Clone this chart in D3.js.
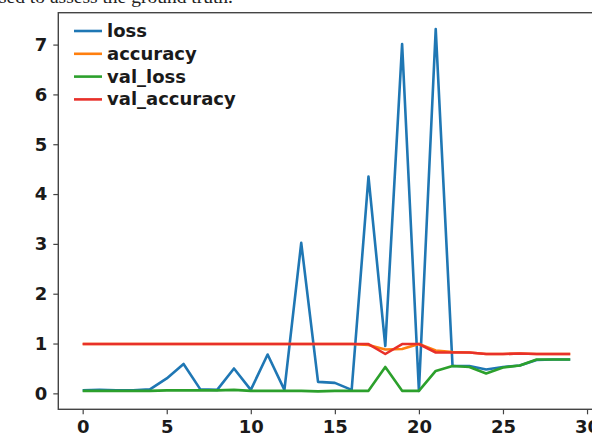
<!DOCTYPE html>
<html><head><meta charset="utf-8">
<script src="https://cdn.jsdelivr.net/npm/d3@7"></script>
<style>body{margin:0;background:#fff}svg{display:block}</style>
</head><body>
<script>
const epochs = d3.range(0, 30);
const loss = [0.06,0.07,0.06,0.06,0.08,0.30,0.59,0.08,0.07,0.50,0.07,0.78,0.07,3.02,0.23,0.21,0.07,4.35,0.95,7.01,0.05,7.31,0.55,0.55,0.48,0.53,0.56,0.67,0.68,0.68];
const accuracy = [0.99,0.99,0.99,0.99,0.99,0.99,0.99,0.99,0.99,0.99,0.99,0.99,0.99,0.99,0.99,0.99,0.99,0.97,0.88,0.89,0.99,0.86,0.83,0.82,0.79,0.79,0.80,0.79,0.79,0.79];
const val_loss = [0.05,0.05,0.05,0.05,0.05,0.06,0.06,0.06,0.06,0.07,0.05,0.05,0.05,0.05,0.04,0.05,0.05,0.05,0.53,0.05,0.05,0.45,0.55,0.53,0.40,0.52,0.56,0.68,0.68,0.68];
const val_accuracy = [0.99,0.99,0.99,0.99,0.99,0.99,0.99,0.99,0.99,0.99,0.99,0.99,0.99,0.99,0.99,0.99,0.99,0.99,0.79,0.99,0.99,0.82,0.82,0.82,0.79,0.79,0.80,0.79,0.79,0.79];
const seriesNames = ["loss","accuracy","val_loss","val_accuracy"];
const seriesColors = ["#1f77b4","#ff7f0e","#2ca02c","#e8302a"];
const xTicks = [0,5,10,15,20,25,30];
const yTicks = [0,1,2,3,4,5,6,7];
const caption = "sed to assess the ground truth.";

const W = 592, H = 437;
const svg = d3.select("body").append("svg").attr("width", W).attr("height", H);

const x = d3.scaleLinear().domain([-1.45, 30.45]).range([58.3, 594.6]);
const y = d3.scaleLinear().domain([-0.32, 7.64]).range([409.3, 12.7]);

// caption clipped at top
svg.append("text").attr("x", -1).attr("y", 3)
  .style("font-family", "'Liberation Serif', serif").style("font-size", "19.5px").style("fill", "#222")
  .text(caption);

const font = "'DejaVu Sans', Verdana, sans-serif";

// frame
svg.append("rect").attr("x", x.range()[0]).attr("y", y.range()[1])
  .attr("width", x.range()[1] - x.range()[0]).attr("height", y.range()[0] - y.range()[1])
  .attr("fill", "none").attr("stroke", "#444").attr("stroke-width", 1.4);

// axes
const xAxis = svg.append("g").attr("transform", `translate(0,${y.range()[0]})`)
  .call(d3.axisBottom(x).tickValues(xTicks).tickSize(5).tickPadding(6));
const yAxis = svg.append("g").attr("transform", `translate(${x.range()[0]},0)`)
  .call(d3.axisLeft(y).tickValues(yTicks).tickSize(5).tickPadding(6));
[xAxis, yAxis].forEach(g => {
  g.select(".domain").remove();
  g.selectAll(".tick line").attr("stroke", "#444").attr("stroke-width", 1.2);
  g.selectAll(".tick text").style("font-family", font).style("font-weight", "bold")
    .style("font-size", "18px").attr("fill", "#1a1a1a");
});

// lines
const allSeries = [loss, accuracy, val_loss, val_accuracy];
const line = d3.line().x((d, i) => x(epochs[i])).y(d => y(d));
allSeries.forEach((s, k) => {
  svg.append("path").datum(s).attr("d", line).attr("fill", "none")
    .attr("stroke", seriesColors[k]).attr("stroke-width", 2.6)
    .attr("stroke-linejoin", "round");
});

// legend
const legY0 = 31, legDy = 22.8;
seriesNames.forEach((n, k) => {
  const ly = legY0 + k * legDy;
  svg.append("line").attr("x1", 74).attr("x2", 102).attr("y1", ly).attr("y2", ly)
    .attr("stroke", seriesColors[k]).attr("stroke-width", 2.6);
  svg.append("text").attr("x", 107).attr("y", ly + 6)
    .style("font-family", font).style("font-weight", "bold").style("font-size", "18px")
    .attr("fill", "#1a1a1a").text(n);
});
</script>
</body></html>
